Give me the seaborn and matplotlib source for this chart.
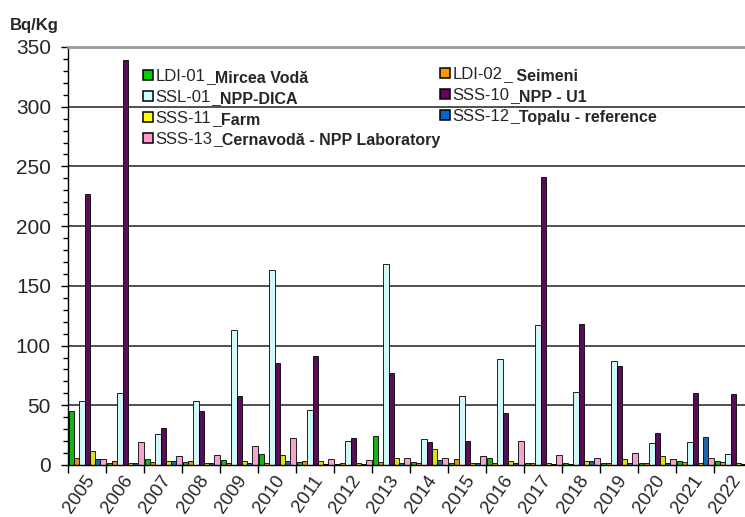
import numpy as np
import pandas as pd
import matplotlib
matplotlib.use("Agg")
import matplotlib.pyplot as plt
import matplotlib.transforms as mtransforms
from matplotlib.patches import Patch
from matplotlib.ticker import MultipleLocator, FixedLocator
import seaborn as sns

# -------------------------------
# Data (Bq/Kg per station and year)
# -------------------------------
years = [str(y) for y in range(2005, 2023)]
stations = ["LDI-01", "LDI-02", "SSL-01", "SSS-10", "SSS-11", "SSS-12", "SSS-13"]
station_names = ["_Mircea Vodă", "_ Seimeni", "_NPP-DICA", "_NPP - U1",
                 "_Farm", "_Topalu - reference", "_Cernavodă - NPP Laboratory"]
colors = ["#00CC00", "#FF9900", "#CCFFFF", "#660066", "#FFFF00", "#0066CC", "#FF99CC"]

ldi_01 = [45, 2, 5, 2.8, 4.2, 9, 2.8, 0.5, 24.3, 2.8, 2, 5.6, 2, 1.4, 2, 1.4, 3.4, 3.4]
ldi_02 = [5.6, 3.6, 2.2, 3.4, 2, 2, 3.4, 2, 2.2, 1.4, 4.7, 2, 2, 0.5, 2, 2, 2.2, 2.2]
ssl_01 = [53.6, 60, 26, 53.5, 113, 163, 46, 20.4, 168, 21.5, 58, 89, 117, 61, 87, 18.7, 19.5, 9]
sss_10 = [227, 339, 31, 45.5, 58, 85, 91, 22.3, 77, 19, 20.5, 43.5, 241, 118, 83, 27, 60.6, 59.5]
sss_11 = [12, 2, 3.4, 2, 3.4, 8.4, 3, 2, 6.1, 13.7, 2, 3.6, 2, 3.6, 5.4, 7.5, 2, 2]
sss_12 = [5, 2, 3.4, 1.4, 2, 3.4, 1, 0.8, 1.4, 4.2, 1.4, 2, 0.5, 3.6, 1.4, 2, 23.7, 1]
sss_13 = [4.7, 19.5, 7.5, 8.4, 16.2, 22.3, 4.7, 4.2, 6.1, 6.1, 7.5, 20.4, 8.4, 6.1, 10, 5, 6.1, 1]

series = [ldi_01, ldi_02, ssl_01, sss_10, sss_11, sss_12, sss_13]
rows = []
for st, vals in zip(stations, series):
    for yr, v in zip(years, vals):
        rows.append({"year": yr, "station": st, "value": v})
df = pd.DataFrame(rows)

# -------------------------------
# Plot
# -------------------------------
sns.set_style("ticks")
plt.rcParams["font.family"] = ["Liberation Sans", "DejaVu Sans"]

fig = plt.figure(figsize=(7.45, 5.17), dpi=100)
ax = fig.add_axes([68.3 / 745, 52 / 517, 684 / 745, 418 / 517])

sns.barplot(data=df, x="year", y="value", hue="station", hue_order=stations,
            order=years, palette=colors, width=0.96, gap=0, edgecolor="black",
            linewidth=0.6, errorbar=None, legend=False, ax=ax)

ax.set_xlim(-0.5, len(years) - 0.5)
ax.set_ylim(0, 350)
ax.set_xlabel("")
ax.set_ylabel("")

ax.yaxis.set_major_locator(MultipleLocator(50))
ax.yaxis.set_minor_locator(MultipleLocator(10))
ax.grid(axis="y", which="major", color="#333333", linewidth=1.2)
ax.set_axisbelow(True)

for side in ["left", "bottom"]:
    ax.spines[side].set_color("black")
    ax.spines[side].set_linewidth(1.0)
ax.spines["top"].set_visible(True)
ax.spines["top"].set_color("#9a9a9a")
ax.spines["top"].set_linewidth(2.0)
ax.spines["right"].set_visible(False)

ax.tick_params(axis="y", which="major", length=5, width=1, labelsize=15, pad=7.5, color="black")
ax.tick_params(axis="y", which="minor", length=3.5, width=1, color="black")

ax.set_xticks(range(len(years)))
ax.set_xticklabels(years)
ax.xaxis.set_minor_locator(FixedLocator(np.arange(-0.5, len(years), 1)))
ax.tick_params(axis="x", which="major", length=0, pad=9, labelsize=13.5)
ax.tick_params(axis="x", which="minor", length=6, width=1, color="black")
shift = mtransforms.ScaledTranslation(3 / 72, 0, fig.dpi_scale_trans)
for lbl in ax.get_xticklabels():
    lbl.set_rotation(55)
    lbl.set_ha("right")
    lbl.set_va("center")
    lbl.set_rotation_mode("anchor")
    lbl.set_transform(lbl.get_transform() + shift)

# legend: two columns, filled row by row
handles = [Patch(facecolor=c, edgecolor="black", linewidth=1.1) for c in colors]
col1 = [0, 2, 4, 6]
col2 = [1, 3, 5]
leg_kw = dict(frameon=False, fontsize=12, handlelength=0.6, handleheight=0.6,
              handletextpad=0.15, labelspacing=0.36, borderpad=0, borderaxespad=0,
              loc="upper left", bbox_transform=fig.transFigure)
leg1 = ax.legend([handles[i] for i in col1], [stations[i] for i in col1],
                 bbox_to_anchor=(143 / 745, 1 - 69 / 517), **leg_kw)
ax.add_artist(leg1)
leg2 = ax.legend([handles[i] for i in col2], [stations[i] for i in col2],
                 bbox_to_anchor=(440 / 745, 1 - 67 / 517), **leg_kw)

for leg, idx in [(leg1, col1), (leg2, col2)]:
    for txt, i in zip(leg.get_texts(), idx):
        ax.annotate(station_names[i], xy=(1, 0), xycoords=txt, xytext=(0.3, -0.6),
                    textcoords="offset points", fontsize=11.5, fontweight="bold",
                    ha="left", va="bottom", zorder=10)

fig.text(10 / 745, 1 - 30 / 517, "Bq/Kg", fontsize=12, fontweight="bold",
         ha="left", va="baseline")

fig.savefig("out.png", dpi=100)
